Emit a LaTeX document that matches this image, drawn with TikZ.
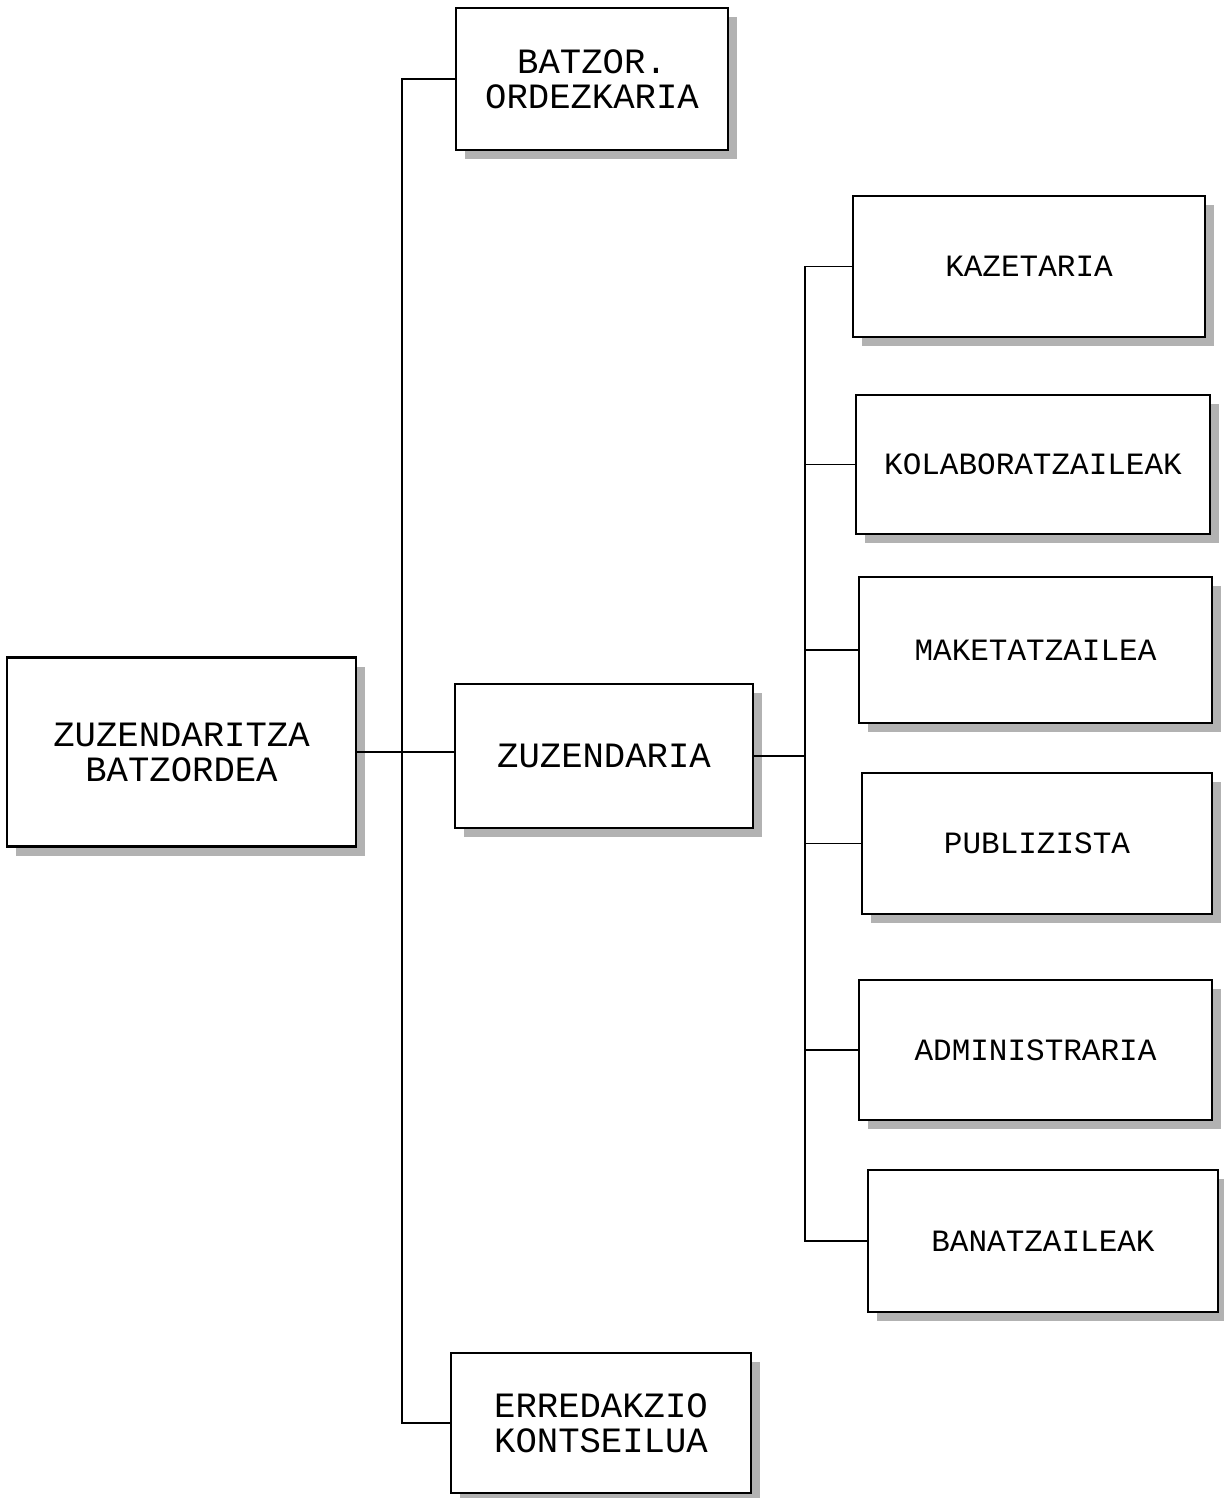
\documentclass[tikz,border=0pt]{standalone}
\usepackage{fontspec}
\newfontfamily\boxfont{Liberation Mono}
\usetikzlibrary{shadows}

\begin{document}
\begin{tikzpicture}[x=0.5pt,y=-0.5pt,
	box/.style={draw, line width=1.1pt, fill=white, align=center, inner sep=0pt,
		drop shadow={shadow xshift=4.5pt, shadow yshift=-4.5pt, fill=gray!60, opacity=1}},
	size/.style 2 args={minimum width=#1*0.5pt, minimum height=#2*0.5pt},
	big/.style={box, font=\boxfont\fontsize{17.8}{17.5}\selectfont},
	small/.style={box, font=\boxfont\fontsize{15.5}{17}\selectfont},
	link/.style={line width=0.9pt}]
	
	\useasboundingbox (0,0) rectangle (1224,1498);
	
	% left column
	\node[big, size={349}{189}] (zuzbatz) at (181.5,752) {ZUZENDARITZA\\BATZORDEA};
	
	% middle column
	\node[big, size={272}{142}] (batzor) at (592,79) {BATZOR.\\ORDEZKARIA};
	\node[big, size={298}{144}] (zuzendaria) at (604,756) {ZUZENDARIA};
	\node[big, size={300}{140}] (erredakzio) at (601,1423) {ERREDAKZIO\\KONTSEILUA};
	
	% right column
	\node[small, size={352}{141}] (kazetaria) at (1029,266.5) {KAZETARIA};
	\node[small, size={354}{139}] (kolab) at (1033,464.5) {KOLABORATZAILEAK};
	\node[small, size={353}{146}] (maketa) at (1035.5,650) {MAKETATZAILEA};
	\node[small, size={350}{141}] (publiz) at (1037,843.5) {PUBLIZISTA};
	\node[small, size={353}{140}] (admin) at (1035.5,1050) {ADMINISTRARIA};
	\node[small, size={350}{142}] (banatz) at (1043,1241) {BANATZAILEAK};
	
	% connectors
	\draw[link] (batzor.west) -- ++(-53,0) |- (erredakzio.west);
	\draw[link] (zuzbatz.east) -- (zuzbatz.east -| zuzendaria.west);
	\coordinate (trunk) at (805,756);
	\draw[link] (zuzendaria.east) -- (trunk);
	\foreach \n in {kazetaria,kolab,maketa,publiz,admin,banatz}
	{
		\draw[link] (\n.west) -| (trunk);
	}
\end{tikzpicture}
\end{document}
